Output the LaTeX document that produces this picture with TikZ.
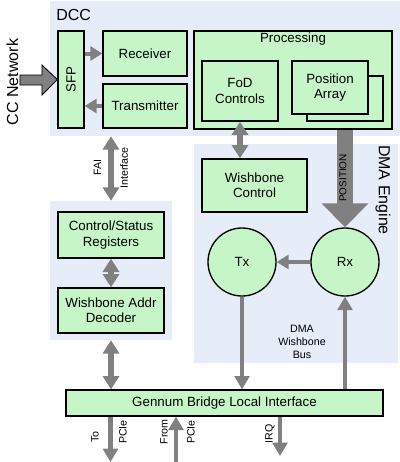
\documentclass[tikz,border=0pt]{standalone}
\usepackage{fontspec}
\setmainfont{Liberation Sans}
\usetikzlibrary{arrows.meta}
\definecolor{boxgreen}{RGB}{198,246,200}
\definecolor{bgblue}{RGB}{230,236,248}
\definecolor{arrowgray}{RGB}{128,128,128}
\newcommand{\px}{0.75pt}

\begin{document}
\begin{tikzpicture}[x=0.75pt,y=-0.75pt,
  bg/.style={fill=bgblue,inner sep=0pt},
  blk/.style={draw,line width=1pt,fill=boxgreen,inner sep=0pt,align=center,
    font=\fontsize{10}{11.5}\selectfont},
  lbl/.style={inner sep=0pt,align=center,font=\fontsize{8}{9.5}\selectfont},
  biglbl/.style={inner sep=0pt,font=\fontsize{12}{14}\selectfont},
  garrow/.style={draw=arrowgray,line width=3pt,-{Triangle[length=9pt,width=10.5pt]}},
  darrow/.style={draw=arrowgray,line width=4.5pt,
    {Triangle[length=10pt,width=12pt]}-{Triangle[length=10pt,width=12pt]}},
  varrow/.style={draw=arrowgray,line width=3.5pt,-{Triangle[length=10pt,width=11pt]}}]
  \useasboundingbox (0,0) rectangle (400,462);

  % background regions
  \node[bg,minimum width=350*\px,minimum height=135*\px] (dccbg) at (225,68.5) {};
  \node[bg,minimum width=122*\px,minimum height=139*\px] (ctrlbg) at (111,270.5) {};
  \node[bg,minimum width=204*\px,minimum height=219*\px] (dmabg) at (296,253.5) {};
  \node[biglbl,anchor=west] (dcclbl) at (56,15) {DCC};
  \node[biglbl,rotate=-90] (dmalbl) at (383,190) {DMA Engine};
  \node[biglbl,rotate=90] (cclbl) at (12.5,82) {CC Network};

  % DCC blocks
  \node[blk,minimum width=26*\px,minimum height=97*\px] (sfp) at (71,79.5) {\rotatebox{90}{SFP}};
  \node[blk,minimum width=84*\px,minimum height=45*\px] (rcv) at (145,53.5) {Receiver};
  \node[blk,minimum width=84*\px,minimum height=44*\px] (trm) at (145,106) {Transmitter};
  \node[blk,minimum width=198*\px,minimum height=98*\px] (proc) at (293,80) {};
  \node[blk,draw=none,fill=none] (proclbl) at (293,39) {Processing};
  \node[blk,minimum width=76*\px,minimum height=60*\px] (fod) at (240,91) {FoD\\Controls};
  \node[blk,minimum width=76*\px,minimum height=45*\px] (posback) at (345,98.5) {};
  \node[blk,minimum width=76*\px,minimum height=53*\px] (posarr) at (330,87.5) {Position\\Array};

  % DMA engine
  \node[blk,minimum width=105*\px,minimum height=53*\px] (wbc) at (254.5,185.5) {Wishbone\\Control};
  \node[blk,circle,minimum size=68*\px] (tx) at (242,262) {Tx};
  \node[blk,circle,minimum size=68*\px] (rx) at (345,262) {Rx};
  \node[lbl] (buslbl) at (302,342) {DMA\\Wishbone\\Bus};

  % control side
  \node[blk,minimum width=106*\px,minimum height=46*\px] (csr) at (111,235) {Control/Status\\Registers};
  \node[blk,minimum width=106*\px,minimum height=45*\px] (wbad) at (111,310.5) {Wishbone Addr\\Decoder};
  \node[blk,minimum width=317*\px,minimum height=26*\px] (gbli) at (224.5,403) {Gennum Bridge Local Interface};

  % arrows
  \draw[line width=0.6pt,fill=arrowgray] (20,75) -- (42,75) -- (42,65) -- (sfp.west)
    -- (42,95) -- (42,85) -- (20,85) -- cycle;
  \draw[garrow] (sfp.east |- rcv.west) -- (rcv.west);
  \draw[garrow] (trm.west) -- (sfp.east |- trm.west);
  \draw[darrow] (csr.north |- dccbg.south) -- (csr.north |- ctrlbg.north);
  \node[lbl,rotate=90] (failbl) at (97.5,167.5) {FAI};
  \node[lbl,rotate=90] (intlbl) at (124,168) {Interface};
  \draw[darrow] (csr.south) -- (wbad.north);
  \draw[darrow] (wbad.south |- ctrlbg.south) -- (wbad.south |- gbli.north);
  \draw[darrow] (fod.south) -- (fod.south |- wbc.north);
  \draw[draw=arrowgray,line width=12pt,-{Triangle[length=18pt,width=34pt]}]
    (rx.north |- proc.south) -- (rx.north);
  \node[lbl,rotate=90,font=\fontsize{7.5}{9}\selectfont] (poslbl) at (343,178) {POSITION};
  \draw[garrow] (rx.west) -- (tx.east);
  \draw[varrow] (tx.south) -- (tx.south |- gbli.north);
  \draw[varrow] (rx.south |- gbli.north) -- (rx.south);

  % PCIe side
  \coordinate (topcie) at (110.5,462);
  \coordinate (frompcie) at (176,462);
  \coordinate (irq) at (280,456);
  \draw[varrow] (topcie |- gbli.south) -- (topcie);
  \draw[varrow] (frompcie) -- (frompcie |- gbli.south);
  \draw[varrow] (irq |- gbli.south) -- (irq);
  \node[lbl,rotate=90] (tolbl) at (95,437) {To};
  \node[lbl,rotate=90] (pcielbla) at (123,432) {PCIe};
  \node[lbl,rotate=90] (fromlbl) at (164,432) {From};
  \node[lbl,rotate=90] (pcielblb) at (191,432) {PCIe};
  \node[lbl,rotate=90] (irqlbl) at (270,434) {IRQ};
\end{tikzpicture}
\end{document}
